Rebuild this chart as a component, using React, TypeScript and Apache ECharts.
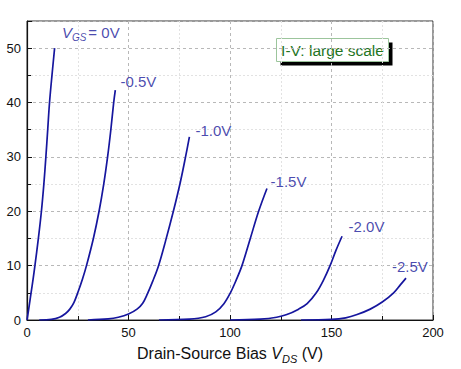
import React, { useEffect, useRef } from "react";
import * as echarts from "echarts";

// Drain current curves for each gate bias: [V_DS, I_D]
const vgs0: number[][] = [[0, 0], [1, 2.4], [2, 5], [3, 7.5], [3.9, 10], [5.6, 15], [7.1, 20], [8.3, 25], [9.3, 30], [10.2, 35], [11.1, 40], [12.3, 45], [13.6, 50]];
const vgs05: number[][] = [[6, 0], [12, 0.1], [16, 0.5], [19, 1.2], [21.1, 2], [23.1, 3.2], [25, 5], [27.3, 7.5], [29.3, 10], [32.7, 15], [35.5, 20], [37.8, 25], [39.7, 30], [41.3, 35], [42.7, 40], [43.5, 42.3]];
const vgs10: number[][] = [[30, 0], [40, 0.2], [45, 0.5], [50, 1.1], [54.2, 2], [57, 3.1], [59.3, 4.8], [62, 7.2], [64.8, 10], [68.3, 14.6], [72.1, 20], [75.5, 25.3], [78.1, 30], [80, 33.7]];
const vgs15: number[][] = [[65, 0], [80, 0.15], [88, 0.6], [93, 1.5], [97, 3], [100.2, 5], [103, 7.3], [105.9, 10], [110, 15], [114.1, 20], [118.2, 24.2]];
const vgs20: number[][] = [[100, 0], [115, 0.15], [123, 0.5], [128, 1], [133.8, 2], [138, 3.0], [142.5, 5], [146, 7.3], [149.3, 10], [152.2, 12.8], [155.2, 15.4]];
const vgs25: number[][] = [[135, 0], [150, 0.1], [157, 0.4], [162.6, 1], [169.1, 2], [175, 3.3], [180.6, 5], [184, 6.5], [186.7, 7.7]];

const curves = [vgs0, vgs05, vgs10, vgs15, vgs20, vgs25];
const curveNames = ["0V", "-0.5V", "-1.0V", "-1.5V", "-2.0V", "-2.5V"];

// Label anchor points (data coordinates, left edge / vertical middle)
const labelPos: number[][] = [[17.2, 52.8], [46, 43.9], [83, 34.8], [120, 25.4], [158.4, 17.2], [179.8, 9.9]];
const labelTexts = ["{v|V}{s|GS}{t|= 0V}", "{t|-0.5V}", "{t|-1.0V}", "{t|-1.5V}", "{t|-2.0V}", "{t|-2.5V}"];

const xTicks = [0, 50, 100, 150, 200];
const yTicks = [0, 10, 20, 30, 40, 50];

const boxTitle = "I-V: large scale";

const FONT = "'Liberation Sans', Arial, sans-serif";
const CURVE = "#16169e";
const LABEL = "#1a1a9a";

export default function App() {
  const ref = useRef<HTMLDivElement>(null);

  useEffect(() => {
    document.body.style.margin = "0";
    if (!ref.current) return;
    const chart = echarts.init(ref.current, undefined, { renderer: "svg" });

    const series: any[] = curves.map((c, i) => ({
      name: curveNames[i],
      type: "line",
      data: c,
      smooth: 0.35,
      showSymbol: false,
      symbol: "none",
      lineStyle: { color: CURVE, width: 1.7 },
      z: 3,
    }));

    series.push({
      type: "scatter",
      symbolSize: 0,
      silent: true,
      data: labelPos.map((p, i) => ({ value: p, labelText: labelTexts[i] })),
      label: {
        show: true,
        position: "right",
        distance: 0,
        formatter: (p: any) => p.data.labelText,
        rich: {
          t: { fontFamily: FONT, fontSize: 15, color: LABEL },
          v: { fontFamily: FONT, fontSize: 15, color: LABEL, fontStyle: "italic" },
          s: { fontFamily: FONT, fontSize: 10, color: LABEL, fontStyle: "italic", padding: [9, 2, 0, 0] },
        },
      },
      z: 4,
    });

    chart.setOption({
      animation: false,
      backgroundColor: "#ffffff",
      grid: { left: 27, right: 28, top: 21, bottom: 45, show: true, borderColor: "#333", borderWidth: 1, backgroundColor: "transparent" },
      xAxis: {
        type: "value",
        min: xTicks[0],
        max: xTicks[xTicks.length - 1],
        interval: 50,
        name: "{a|Drain-Source Bias }{v|V}{s|DS}{a| (V)}",
        nameLocation: "middle",
        nameGap: 23,
        nameTextStyle: {
          rich: {
            a: { fontFamily: FONT, fontSize: 16, color: "#111" },
            v: { fontFamily: FONT, fontSize: 16, color: "#111", fontStyle: "italic" },
            s: { fontFamily: FONT, fontSize: 11, color: "#111", fontStyle: "italic", padding: [10, 0, 0, 0] },
          },
        },
        axisLine: { show: true, onZero: false, lineStyle: { color: "#111", width: 1.2 } },
        axisTick: { show: true, inside: true, length: 5, lineStyle: { color: "#111" } },
        minorTick: { show: true, splitNumber: 2, length: 4, lineStyle: { color: "#111" } },
        axisLabel: { fontFamily: FONT, fontSize: 13, color: "#111", margin: 6 },
        splitLine: { show: true, lineStyle: { color: "#b8b8b8", type: [3, 3], width: 1 } },
        minorSplitLine: { show: true, lineStyle: { color: "#e2e2e2", type: [2, 2], width: 1 } },
      },
      yAxis: {
        type: "value",
        min: 0,
        max: 55,
        interval: 10,
        axisLine: { show: true, onZero: false, lineStyle: { color: "#111", width: 1.2 } },
        axisTick: { show: true, inside: true, length: 5, lineStyle: { color: "#111" } },
        minorTick: { show: true, splitNumber: 2, length: 4, lineStyle: { color: "#111" } },
        axisLabel: {
          fontFamily: FONT,
          fontSize: 13,
          color: "#111",
          margin: 6,
          formatter: (v: number) => (yTicks.indexOf(v) >= 0 ? String(v) : ""),
        },
        splitLine: { show: true, lineStyle: { color: "#b8b8b8", type: [3, 3], width: 1 } },
        minorSplitLine: { show: true, lineStyle: { color: "#e2e2e2", type: [2, 2], width: 1 } },
      },
      graphic: [
        {
          type: "group",
          left: 276,
          top: 38,
          z: 10,
          children: [
            { type: "rect", shape: { x: 4, y: 4, width: 112, height: 23 }, style: { fill: "#000" } },
            { type: "rect", shape: { x: 0, y: 0, width: 112, height: 23 }, style: { fill: "#fff", stroke: "#9cc59c", lineWidth: 1 } },
            {
              type: "text",
              x: 56,
              y: 12,
              style: { text: boxTitle, fontFamily: FONT, fontSize: 15.5, fill: "#1f751f", align: "center", verticalAlign: "middle" },
            },
          ],
        },
      ],
      series,
    });

    return () => chart.dispose();
  }, []);

  return <div ref={ref} style={{ width: 461, height: 369 }} />;
}
